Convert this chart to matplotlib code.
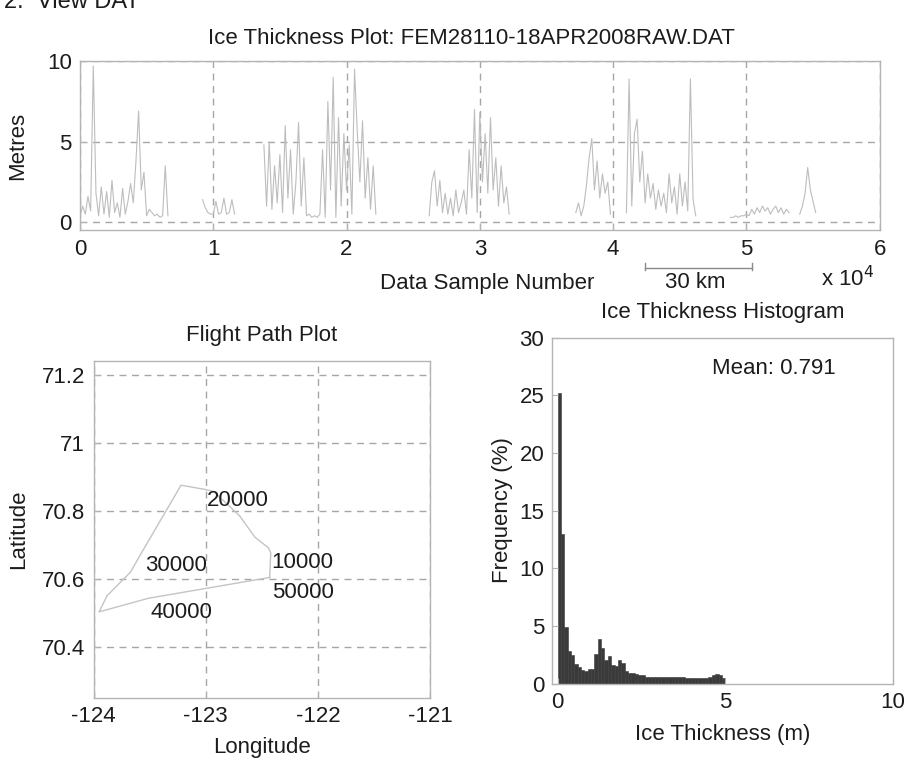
import numpy as np
import matplotlib
matplotlib.use("Agg")
import matplotlib.pyplot as plt
from matplotlib.lines import Line2D

nan = np.nan

# ---------------- data ----------------
# Ice thickness trace (m), one reading every 200 samples
sample_step = 200
thickness_m = [
    0.4, 1.0, 0.5, 1.6, 0.7, 9.7, 1.8, 0.4, 2.2, 0.5,
    1.9, 0.3, 2.6, 0.6, 1.2, 0.3, 2.1, 0.5, 1.3, 2.4,
    1.2, 3.8, 6.9, 2.0, 3.1, 0.4, 0.8, 0.6, 0.4, 0.5,
    0.3, 0.4, 3.5, 0.4, nan, nan, nan, nan, nan, nan,
    nan, nan, nan, nan, nan, nan, 1.4, 0.9, 0.6, 0.5,
    0.5, 1.3, 0.5, 0.6, 1.5, 0.5, 0.6, 1.4, 0.5, nan,
    nan, nan, nan, nan, nan, nan, nan, nan, nan, 4.8,
    1.0, 5.0, 0.8, 3.5, 1.2, 4.2, 0.6, 6.0, 1.5, 4.5,
    0.5, 2.5, 6.2, 1.0, 4.0, 0.4, 0.5, 0.3, 0.4, 0.3,
    0.5, 4.5, 0.3, 7.5, 2.0, 9.0, 0.3, 6.5, 1.0, 5.5,
    2.0, 4.8, 0.5, 9.5, 5.7, 2.5, 6.3, 1.5, 4.0, 0.8,
    3.5, 0.5, nan, nan, nan, nan, nan, nan, nan, nan,
    nan, nan, nan, nan, nan, nan, nan, nan, nan, nan,
    nan, 0.4, 2.5, 3.2, 1.0, 2.6, 0.6, 1.8, 0.5, 1.5,
    0.4, 2.0, 0.6, 1.2, 2.0, 0.5, 4.5, 1.5, 7.0, 0.6,
    6.8, 2.5, 5.5, 1.8, 6.5, 2.0, 4.0, 1.0, 3.5, 1.2,
    2.2, 0.5, nan, nan, nan, nan, nan, nan, nan, nan,
    nan, nan, nan, nan, nan, nan, nan, nan, nan, nan,
    nan, nan, nan, nan, nan, nan, 0.6, 1.2, 0.4, 1.0,
    2.3, 4.0, 5.2, 2.0, 3.8, 1.5, 3.0, 1.8, 2.5, 0.5,
    nan, nan, nan, nan, nan, 0.6, 8.9, 1.0, 5.5, 6.4,
    2.5, 4.4, 1.2, 3.0, 1.5, 2.4, 0.8, 2.0, 1.0, 1.8,
    0.6, 3.0, 1.2, 2.2, 0.5, 3.0, 1.0, 2.5, 0.7, 8.9,
    1.4, 0.4, nan, nan, nan, nan, nan, nan, nan, nan,
    nan, nan, nan, nan, 0.3, 0.3, 0.4, 0.3, 0.4, 0.4,
    0.5, 0.4, 0.8, 0.5, 0.9, 0.6, 1.0, 0.7, 0.9, 0.5,
    0.8, 1.0, 0.6, 0.9, 0.5, 0.8, 0.6, nan, nan, nan,
    0.5, 1.0, 1.8, 3.4, 2.0, 1.3, 0.6,
]
top_xticks = [0, 10000, 20000, 30000, 40000, 50000, 60000]
top_xticklabels = ["0", "1", "2", "3", "4", "5", "6"]
top_yticks = [0, 5, 10]

# Flight path (longitude, latitude)
path_lon = [-122.43, -122.42, -122.44, -122.56, -122.70, -122.93, -123.01, -123.22,
            -123.58, -123.67, -123.88, -123.95, -123.51, -122.43]
path_lat = [70.604, 70.676, 70.691, 70.722, 70.786, 70.857, 70.863, 70.875,
            70.672, 70.620, 70.550, 70.503, 70.543, 70.604]
label_text = ["10000", "20000", "30000", "40000", "50000"]
label_lon = [-122.42, -122.99, -123.54, -123.49, -122.41]
label_lat = [70.648, 70.830, 70.640, 70.500, 70.560]
lon_ticks = [-124, -123, -122, -121]
lat_ticks = [70.4, 70.6, 70.8, 71.0, 71.2]
lat_ticklabels = ["70.4", "70.6", "70.8", "71", "71.2"]

# Histogram: bin left edges (m) and frequency (%)
bin_width = 0.1
bin_left = [round(0.1 * i, 1) for i in range(50)]
freq_pct = [
    25.2, 13.0, 4.9, 2.8, 2.5, 1.7, 1.4, 1.2, 1.1, 1.3,
    1.3, 2.6, 3.9, 3.1, 2.0, 2.4, 1.6, 1.5, 2.0, 1.8,
    1.1, 0.9, 0.9, 0.8, 0.7, 0.7, 0.6, 0.6, 0.6, 0.6,
    0.6, 0.6, 0.6, 0.6, 0.6, 0.6, 0.6, 0.6, 0.5, 0.5,
    0.5, 0.5, 0.5, 0.5, 0.5, 0.6, 0.7, 0.8, 0.7, 0.5,
]
mean_thickness = 0.791

# ---------------- style ----------------
plt.rcParams["font.family"] = ["Liberation Sans", "DejaVu Sans"]
plt.rcParams["axes.unicode_minus"] = False
FS = 16
TXT = "#1c1c1c"
FRAME = "#b4b4b4"
GRID = "#a6a6a6"
DASH = (0, (5, 4))

fig = plt.figure(figsize=(9.15, 7.65), dpi=100)
fig.patch.set_facecolor("white")


def style_axes(ax):
    for s in ax.spines.values():
        s.set_color(FRAME)
        s.set_linewidth(1.0)
    ax.tick_params(direction="in", length=4, color=FRAME, labelsize=FS,
                   labelcolor=TXT, pad=6)


# ---------------- top: ice thickness trace ----------------
ax1 = fig.add_axes([0.0874, 0.699, 0.874, 0.221])
samples = np.arange(len(thickness_m)) * sample_step
ax1.plot(samples, thickness_m, color="#bdbdbd", lw=0.8)
ax1.set_xlim(0, 60000)
ax1.set_ylim(-0.5, 10)
ax1.set_xticks(top_xticks)
ax1.set_xticklabels(top_xticklabels)
ax1.set_yticks(top_yticks)
ax1.grid(True, ls=DASH, color=GRID, lw=1.0)
style_axes(ax1)
ax1.set_title("Ice Thickness Plot: FEM28110-18APR2008RAW.DAT", fontsize=FS,
              color=TXT, x=0.49, y=1.136, va="center", pad=0)
ax1.set_xlabel("Data Sample Number", fontsize=FS, color=TXT)
ax1.xaxis.set_label_coords(0.509, -0.314)
ax1.xaxis.label.set_va("center")
ax1.set_ylabel("Metres", fontsize=FS, color=TXT)
ax1.yaxis.set_label_coords(-0.0775, 0.5)
ax1.yaxis.label.set_va("center")

# scale bar "30 km" and exponent
y_bar = 497 / 765
x0_bar, x1_bar = 645 / 915, 752 / 915
fig.add_artist(Line2D([x0_bar, x1_bar], [y_bar, y_bar], color="#8a8a8a", lw=1.0))
for xb in (x0_bar, x1_bar):
    fig.add_artist(Line2D([xb, xb], [y_bar - 2 / 765, y_bar + 5 / 765],
                          color="#8a8a8a", lw=1.0))
fig.text(695 / 915, 483 / 765, "30 km", fontsize=FS, color=TXT, ha="center", va="center")
fig.text(848 / 915, 486 / 765, r"x 10$^4$", fontsize=FS, color=TXT, ha="center", va="center")

# cut-off heading at the very top
fig.text(0.004, 0.998, "2.  View DAT", fontsize=17, color=TXT, ha="left", va="center")

# ---------------- bottom-left: flight path ----------------
ax2 = fig.add_axes([0.1022, 0.0876, 0.3678, 0.4405])
ax2.plot(path_lon, path_lat, color="#c4c4c4", lw=1.0)
for t, lo, la in zip(label_text, label_lon, label_lat):
    ax2.text(lo, la, t, fontsize=FS, color=TXT, ha="left", va="center")
ax2.set_xlim(-124, -121)
ax2.set_ylim(70.25, 71.24)
ax2.set_xticks(lon_ticks)
ax2.set_yticks(lat_ticks)
ax2.set_yticklabels(lat_ticklabels)
ax2.grid(True, ls=DASH, color=GRID, lw=1.0)
style_axes(ax2)
ax2.set_title("Flight Path Plot", fontsize=FS, color=TXT, y=1.077, va="center", pad=0)
ax2.set_xlabel("Longitude", fontsize=FS, color=TXT)
ax2.xaxis.set_label_coords(0.5, -0.148)
ax2.xaxis.label.set_va("center")
ax2.set_ylabel("Latitude", fontsize=FS, color=TXT)
ax2.yaxis.set_label_coords(-0.223, 0.5)
ax2.yaxis.label.set_va("center")

# ---------------- bottom-right: histogram ----------------
ax3 = fig.add_axes([0.6038, 0.1065, 0.3721, 0.4523])
ax3.bar(bin_left, freq_pct, width=bin_width, align="edge", color="#3a3a3a",
        edgecolor="#3a3a3a", lw=0.4)
ax3.set_xlim(-0.15, 10)
ax3.set_ylim(0, 30)
ax3.set_xticks([0, 5, 10])
ax3.set_yticks([0, 5, 10, 15, 20, 25, 30])
style_axes(ax3)
ax3.text(4.6, 27.3, "Mean: %.3f" % mean_thickness, fontsize=FS, color=TXT,
         ha="left", va="center")
ax3.set_title("Ice Thickness Histogram", fontsize=FS, color=TXT, y=1.072, va="center", pad=0)
ax3.set_xlabel("Ice Thickness (m)", fontsize=FS, color=TXT)
ax3.xaxis.set_label_coords(0.5, -0.147)
ax3.xaxis.label.set_va("center")
ax3.set_ylabel("Frequency (%)", fontsize=FS, color=TXT)
ax3.yaxis.set_label_coords(-0.147, 0.5)
ax3.yaxis.label.set_va("center")

fig.savefig("out.png", dpi=100, facecolor="white")
